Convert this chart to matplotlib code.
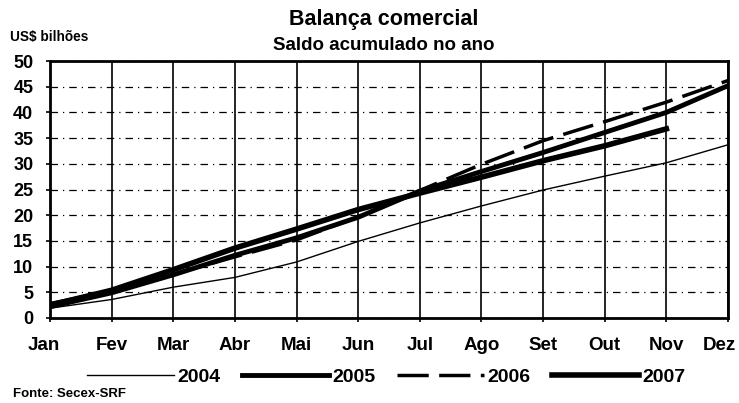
import matplotlib.pyplot as plt
import matplotlib.transforms as mtransforms

plt.rcParams['font.family'] = ['Liberation Sans', 'DejaVu Sans']
plt.rcParams['font.weight'] = 'bold'

meses = ["Jan", "Fev", "Mar", "Abr", "Mai", "Jun", "Jul", "Ago", "Set", "Out", "Nov", "Dez"]
s2004 = [1.9, 3.6, 6.0, 7.9, 10.9, 14.9, 18.5, 21.8, 24.9, 27.6, 30.2, 33.7]
s2005 = [2.2, 4.9, 8.4, 12.2, 15.6, 19.6, 24.7, 28.5, 32.2, 36.1, 40.0, 45.2]
s2006 = [2.8, 5.3, 8.5, 11.9, 15.2, 19.7, 24.8, 29.9, 34.5, 38.2, 42.0, 46.2]
s2007 = [2.5, 5.4, 9.4, 13.6, 17.3, 21.1, 24.3, 27.4, 30.6, 33.5, 36.8]
yticks = [0, 5, 10, 15, 20, 25, 30, 35, 40, 45, 50]

fig = plt.figure(figsize=(7.39, 4.03), dpi=100)
ax = fig.add_axes([50 / 739, 1 - 318 / 403, 678 / 739, 257 / 403])

x = range(len(meses))
ax.plot(x, s2004, color="black", lw=1.0, label="2004")
ax.plot(x, s2005, color="black", lw=3.5, label="2005")
ax.plot(x, s2006, color="black", lw=2.5, dashes=(9, 3), label="2006")
ax.plot(range(len(s2007)), s2007, color="black", lw=4.0, label="2007")

ax.set_xlim(0, 11)
ax.set_ylim(0, 50)
ax.set_xticks(list(x))
ax.set_xticklabels(meses, fontsize=13.5, fontweight="bold")
ax.set_yticks(yticks)
ax.set_yticklabels([str(v) for v in yticks], fontsize=13, fontweight="bold")
ax.tick_params(axis="x", length=3, pad=11, width=1.2)
ax.tick_params(axis="y", length=3, pad=9, width=1.2)

# small nudges so the end labels sit like the original
lbls = ax.get_xticklabels()
lbls[0].set_transform(lbls[0].get_transform() + mtransforms.ScaledTranslation(-6 / 100, 0, fig.dpi_scale_trans))
lbls[-1].set_transform(lbls[-1].get_transform() + mtransforms.ScaledTranslation(-9 / 100, 0, fig.dpi_scale_trans))

ax.xaxis.grid(True, color="black", lw=1.2, ls="-")
ax.yaxis.grid(True, color="black", lw=0.9, ls=(0, (6, 4, 1, 4)))
ax.set_axisbelow(True)
for s in ax.spines.values():
    s.set_linewidth(2)

fig.text(384 / 739, 1 - 20 / 403, "Balança comercial", ha="center", va="center",
         fontsize=15.5, fontweight="bold")
fig.text(384 / 739, 1 - 46 / 403, "Saldo acumulado no ano", ha="center", va="center",
         fontsize=13.5, fontweight="bold")
fig.text(10 / 739, 1 - 37 / 403, "US$ bilhões", ha="left", va="center",
         fontsize=9.8, fontweight="bold")
fig.text(13 / 739, 1 - 394 / 403, "Fonte: Secex-SRF", ha="left", va="center",
         fontsize=9.5, fontweight="bold")

leg = fig.legend(loc="center", bbox_to_anchor=(386 / 739, 1 - 377 / 403), ncol=4,
                 frameon=False, handlelength=4.5, handletextpad=0.15, columnspacing=1.1,
                 prop={"size": 14, "weight": "bold"})

fig.savefig("out.png", dpi=100)
